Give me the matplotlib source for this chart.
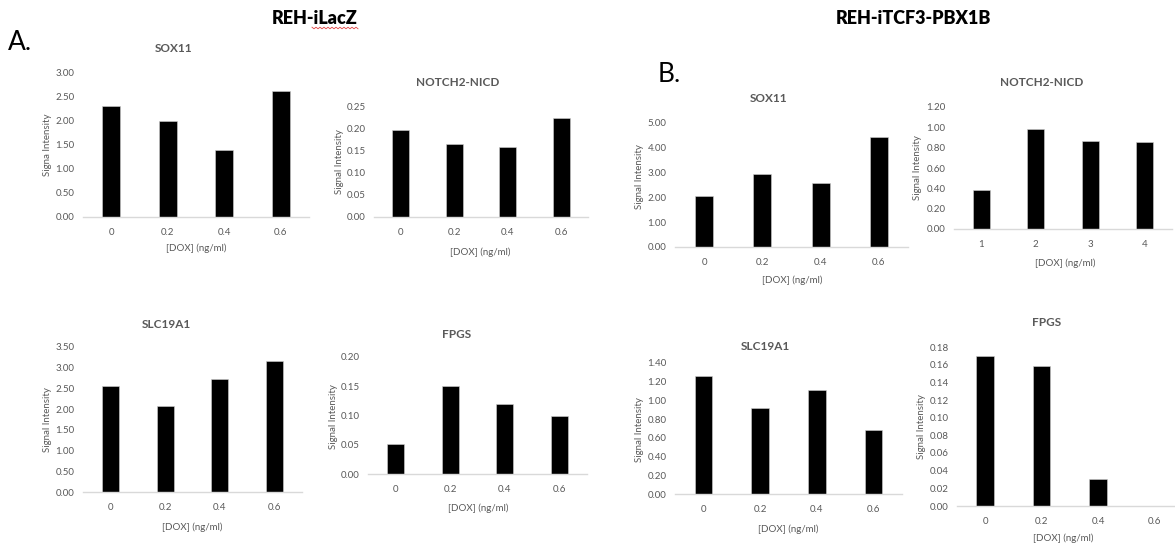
import matplotlib
matplotlib.use("Agg")
import matplotlib.pyplot as plt
import numpy as np
from matplotlib.lines import Line2D

plt.rcParams['font.family'] = ['Lato', 'DejaVu Sans']

W, H = 1175, 550
GREY = '#595959'

dox = ['0', '0.2', '0.4', '0.6']
dox_num = ['1', '2', '3', '4']

# REH-iLacZ
sox11_a = [2.30, 1.99, 1.39, 2.61]
notch_a = [0.197, 0.165, 0.159, 0.225]
slc_a = [2.56, 2.07, 2.72, 3.16]
fpgs_a = [0.052, 0.151, 0.120, 0.100]

# REH-iTCF3-PBX1B
sox11_b = [2.07, 2.93, 2.58, 4.45]
notch_b = [0.388, 0.988, 0.867, 0.858]
slc_b = [1.264, 0.914, 1.114, 0.689]
fpgs_b = [0.170, 0.158, 0.031, 0.0]

# name, values, categories, yticks, ylabel
panels = [
    ('SOX11', sox11_a, dox, np.arange(0, 3.01, 0.5), 'Signa Intensity'),
    ('NOTCH2-NICD', notch_a, dox, np.arange(0, 0.251, 0.05), 'Signal Intensity'),
    ('SOX11', sox11_b, dox, np.arange(0, 5.01, 1.0), 'Signal Intensity'),
    ('NOTCH2-NICD', notch_b, dox_num, np.arange(0, 1.21, 0.2), 'Signal Intensity'),
    ('SLC19A1', slc_a, dox, np.arange(0, 3.51, 0.5), 'Signal Intensity'),
    ('FPGS', fpgs_a, dox, np.arange(0, 0.201, 0.05), 'Signal Intensity'),
    ('SLC19A1', slc_b, dox, np.arange(0, 1.41, 0.2), 'Signal Intensity'),
    ('FPGS', fpgs_b, dox, np.arange(0, 0.181, 0.02), 'Signal Intensity'),
]

# pixel layout: left, right, top, bottom, title xy, ylabel xy, xlabel xy, xmax
layout = [
    (83, 309, 72, 217, (174, 49), (48, 145), (196, 248), 3.5),
    (374, 588, 107, 217, (458, 83), (340, 162), (480, 252), 3.5),
    (675, 908, 123, 247, (769, 99), (640, 177), (792, 280), 3.5),
    (954, 1172, 107, 229, (1042, 83), (918, 168), (1065, 263), 3.5),
    (83, 302, 347, 492, (166, 324), (48, 420), (192, 527), 3.5),
    (368, 587, 357, 474, (457, 334), (333, 417), (478, 508), 3.5),
    (675, 902, 363, 494, (765, 346), (640, 430), (788, 529), 3.5),
    (957, 1175, 347, 506, (1047, 323), (922, 427), (1063, 538), 3.36),
]


def fx(x):
    return x / W


def fy(y):
    return 1 - y / H


fig = plt.figure(figsize=(W / 100, H / 100), dpi=100)

for (name, vals, cats, yt, ylab), (l, r, t, b, tpos, ypos, xpos, xmax) in zip(panels, layout):
    ax = fig.add_axes([fx(l), fy(b), (r - l) / W, (b - t) / H])
    x = np.arange(len(cats))
    ax.bar(x, vals, width=0.31, color='black', edgecolor='#d0d0d0', linewidth=0.4)
    ax.set_xlim(-0.5, xmax)
    ax.set_ylim(0, yt[-1])
    ax.set_yticks(yt)
    ax.set_yticklabels([f'{v:.2f}' for v in yt])
    ax.set_xticks(x)
    ax.set_xticklabels(cats)
    ax.tick_params(length=0, labelsize=7, labelcolor=GREY)
    ax.tick_params(axis='y', pad=6)
    ax.tick_params(axis='x', pad=8)
    for s in ['top', 'right', 'left']:
        ax.spines[s].set_visible(False)
    ax.spines['bottom'].set_color('#d9d9d9')
    ax.spines['bottom'].set_linewidth(1)
    ax.patch.set_alpha(0)
    fig.text(fx(tpos[0]), fy(tpos[1]), name, ha='center', va='center',
             fontsize=8.5, fontweight='bold', color=GREY)
    fig.text(fx(ypos[0]), fy(ypos[1]), ylab, ha='center', va='center',
             rotation=90, fontsize=7, color=GREY)
    fig.text(fx(xpos[0]), fy(xpos[1]), '[DOX] (ng/ml)', ha='center', va='center',
             fontsize=7, color=GREY)

fig.text(fx(315), fy(18), 'REH-iLacZ', ha='center', va='center',
         fontsize=13, fontweight='heavy', color='black')
fig.text(fx(913), fy(18), 'REH-iTCF3-PBX1B', ha='center', va='center',
         fontsize=13, fontweight='heavy', color='black')
fig.text(fx(20), fy(42), 'A.', ha='center', va='center', fontsize=19, color='black')
fig.text(fx(669), fy(75), 'B.', ha='center', va='center', fontsize=19, color='black')

# spell-check squiggle under "iLacZ"
wx = np.linspace(312, 358, 24)
wy = 28 + np.where(np.arange(24) % 2 == 0, -0.8, 0.8)
fig.add_artist(Line2D(fx(wx), fy(wy), color='#e04040', linewidth=0.6))

fig.savefig('out.png', dpi=100, facecolor='white')
